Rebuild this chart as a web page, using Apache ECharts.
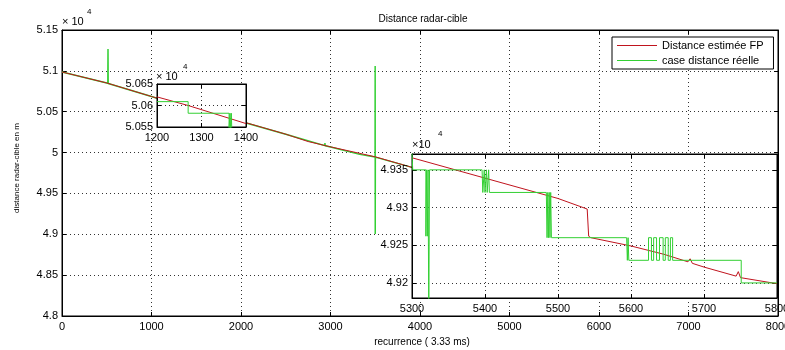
<!DOCTYPE html>
<html>
<head>
<meta charset="utf-8">
<script src="https://cdn.jsdelivr.net/npm/echarts@6/dist/echarts.min.js"></script>
<style>
html, body { margin: 0; padding: 0; background: #fff; }
#distance { width: 785px; height: 350px; }
</style>
</head>
<body>
<div id="distance"></div>
<script>
// valeurs en x 10^4 m
let nombre = ['Distance estimée FP', 'case distance réelle'];

// courbe principale
let recEst = [0, 500, 1000, 1200, 1270, 1400, 1500, 2067, 2500, 2750, 3000, 3500, 3900, 4500, 5300, 5540, 5542, 5800, 6500, 7200, 8000];
let distEst = [5.0986, 5.0852, 5.0686, 5.0620, 5.0600, 5.0558, 5.0528, 5.0362, 5.0225, 5.0135, 5.0070, 4.9948, 4.9822, 4.9630, 4.9366, 4.9298, 4.9260, 4.9198, 4.8990, 4.8780, 4.8537];
let recCase = [0, 512, 514, 516, 1000, 1200, 1400, 2067, 2500, 2936, 2938, 2940, 3000, 3326, 3330, 3334, 3498, 3499, 3500, 3501, 3900, 4500, 5300, 5800, 6500, 7200, 8000];
let distCase = [5.0986, 5.0848, 5.1268, 5.0846, 5.0686, 5.0615, 5.0552, 5.0360, 5.0225, 5.0085, 5.0115, 5.0083, 5.0068, 4.9978, 4.9962, 4.9976, 4.9946, 5.1060, 4.9003, 4.9944, 4.9822, 4.9630, 4.9350, 4.9200, 4.8990, 4.8780, 4.8537];

// zoom 1200-1400
let recEst1 = [1200, 1270, 1400];
let distEst1 = [5.0620, 5.0600, 5.0558];
let recCase1 = [1200, 1270, 1270, 1362, 1362, 1364, 1365, 1367, 1368, 1400];
let distCase1 = [5.0609, 5.0609, 5.0582, 5.0582, 5.0546, 5.0582, 5.0546, 5.0582, 5.0546, 5.0546];

// zoom 5300-5800
let recEst2 = [5300, 5400, 5500, 5540, 5542, 5545, 5600, 5645, 5678, 5681, 5684, 5700, 5744, 5747, 5750, 5800];
let distEst2 = [4.9366, 4.9339, 4.9312, 4.9298, 4.9262, 4.9260, 4.9249, 4.9238, 4.9228, 4.9232, 4.9226, 4.9221, 4.9209, 4.9215, 4.9207, 4.9199];
let recCase2 = [5300, 5301, 5319, 5319, 5320, 5321, 5322, 5323, 5324, 5396, 5397, 5399, 5400, 5402, 5403, 5405, 5406, 5484, 5485, 5486, 5487, 5488, 5489, 5490, 5491, 5594, 5595, 5596, 5597, 5624, 5624, 5628, 5628, 5631, 5631, 5635, 5635, 5639, 5639, 5644, 5644, 5647, 5647, 5651, 5651, 5654, 5654, 5657, 5657, 5751, 5751, 5800];
let distCase2 = [4.9372, 4.9350, 4.9350, 4.9262, 4.9350, 4.9262, 4.9350, 4.9150, 4.9350, 4.9350, 4.9320, 4.9350, 4.9320, 4.9350, 4.9320, 4.9350, 4.9320, 4.9320, 4.9260, 4.9320, 4.9260, 4.9320, 4.9260, 4.9320, 4.9260, 4.9260, 4.9230, 4.9260, 4.9230, 4.9230, 4.9260, 4.9260, 4.9230, 4.9230, 4.9260, 4.9260, 4.9230, 4.9230, 4.9260, 4.9260, 4.9230, 4.9230, 4.9260, 4.9260, 4.9230, 4.9230, 4.9260, 4.9260, 4.9230, 4.9230, 4.9200, 4.9200];

// graduations
let ticksY2 = [4.92, 4.925, 4.93, 4.935];

let pares = (xs, ys) => xs.map((x, i) => [x, ys[i]]);

let fuente = 'Liberation Sans';
let rojo = '#c0141e';
let verde = '#33d033';
let punteado = { show: true, lineStyle: { color: '#333', type: [1, 3], width: 1 } };
let ejeNegro = { show: true, onZero: false, lineStyle: { color: '#000', width: 1 } };
let tick = { show: true, inside: true, length: 4, lineStyle: { color: '#000' } };
let etiqueta = { color: '#000', fontSize: 11, fontFamily: fuente, margin: 5, formatter: (v) => String(v) };

// axes: visibles + copies en haut / a droite (graduations seules)
let ejeX = (grid, min, max, interval, z) => [{
    type: 'value', gridIndex: grid, position: 'bottom', min: min, max: max, interval: interval, z: z,
    axisLine: ejeNegro, axisTick: tick, axisLabel: etiqueta, splitLine: punteado
}, {
    type: 'value', gridIndex: grid, position: 'top', min: min, max: max, interval: interval, z: z,
    axisLine: ejeNegro, axisTick: tick, axisLabel: { show: false }, splitLine: { show: false }
}];

let ejeY = (grid, min, max, interval, z, custom) => {
    let lab = Object.assign({}, etiqueta, { margin: 4 });
    let tk = Object.assign({}, tick);
    if (custom) {
        lab.customValues = custom;
        tk.customValues = custom;
    }
    return [{
        type: 'value', gridIndex: grid, position: 'left', min: min, max: max, interval: interval, z: z, scale: true,
        axisLine: ejeNegro, axisTick: tk, axisLabel: lab, splitLine: punteado
    }, {
        type: 'value', gridIndex: grid, position: 'right', min: min, max: max, interval: interval, z: z, scale: true,
        axisLine: ejeNegro, axisTick: tk, axisLabel: { show: false }, splitLine: { show: false }
    }];
};

let serie = (name, xi, data, color, width, z) => ({
    name: name, type: 'line', xAxisIndex: xi, yAxisIndex: xi, data: data,
    symbol: 'none', color: color, lineStyle: { width: width, color: color }, z: z, animation: false
});

let texto = (text, x, y, size, extra) => Object.assign({
    type: 'text', x: x, y: y, z: 100,
    style: { text: text, fill: '#000', font: size + 'px ' + fuente, align: 'left', verticalAlign: 'middle' }
}, extra || {});

let chart = echarts.init(document.getElementById('distance'));

let cadre = { show: true, borderColor: '#000', borderWidth: 1, containLabel: false, outerBoundsMode: 'none' };

let option = {
    animation: false,
    backgroundColor: '#fff',
    grid: [
        Object.assign({ left: 62, top: 30, width: 716, height: 286, z: 0 }, cadre),
        Object.assign({ left: 157, top: 84, width: 89, height: 43, backgroundColor: '#fff', z: 5 }, cadre),
        Object.assign({ left: 412, top: 154, width: 365, height: 144, backgroundColor: '#fff', z: 5 }, cadre)
    ],
    xAxis: [].concat(
        ejeX(0, 0, 8000, 1000, 0),
        ejeX(1, 1200, 1400, 100, 6),
        ejeX(2, 5300, 5800, 100, 6)
    ),
    yAxis: [].concat(
        ejeY(0, 4.8, 5.15, 0.05, 0),
        ejeY(1, 5.055, 5.065, 0.005, 6),
        ejeY(2, 4.918, 4.9371, null, 6, ticksY2)
    ),
    legend: {
        data: nombre,
        orient: 'vertical',
        left: 612, top: 37,
        icon: 'path://M0,0H40V1H0Z',
        itemWidth: 40, itemHeight: 12, itemGap: 4,
        padding: [3, 10, 3, 5],
        borderColor: '#000', borderWidth: 1,
        backgroundColor: '#fff',
        textStyle: { color: '#000', fontSize: 11, fontFamily: fuente },
        z: 4
    },
    series: [
        serie(nombre[1], 0, pares(recCase, distCase), verde, 1.5, 2),
        serie(nombre[0], 0, pares(recEst, distEst), rojo, 1, 3),
        serie(nombre[0], 2, pares(recEst1, distEst1), rojo, 1, 7),
        serie(nombre[1], 2, pares(recCase1, distCase1), verde, 1, 8),
        serie(nombre[0], 4, pares(recEst2, distEst2), rojo, 1, 7),
        serie(nombre[1], 4, pares(recCase2, distCase2), verde, 1, 8)
    ],
    graphic: [
        texto('Distance radar-cible', 423, 19, 10, { style: { text: 'Distance radar-cible', fill: '#000', font: '10px ' + fuente, align: 'center', verticalAlign: 'middle' } }),
        texto('recurrence ( 3.33 ms)', 422, 342, 10, { style: { text: 'recurrence ( 3.33 ms)', fill: '#000', font: '10px ' + fuente, align: 'center', verticalAlign: 'middle' } }),
        texto('distance radar-cible en m', 17, 168, 8, { rotation: Math.PI / 2, style: { text: 'distance radar-cible en m', fill: '#000', font: '8px ' + fuente, align: 'center', verticalAlign: 'middle' } }),
        texto('× 10', 62, 22, 11),
        texto('4', 87, 12, 8),
        texto('× 10', 156, 77, 11),
        texto('4', 183, 67, 8),
        texto('×10', 412, 145, 11),
        texto('4', 438, 134, 8)
    ]
};

option && chart.setOption(option);
window.addEventListener('resize', chart.resize);
</script>
</body>
</html>
